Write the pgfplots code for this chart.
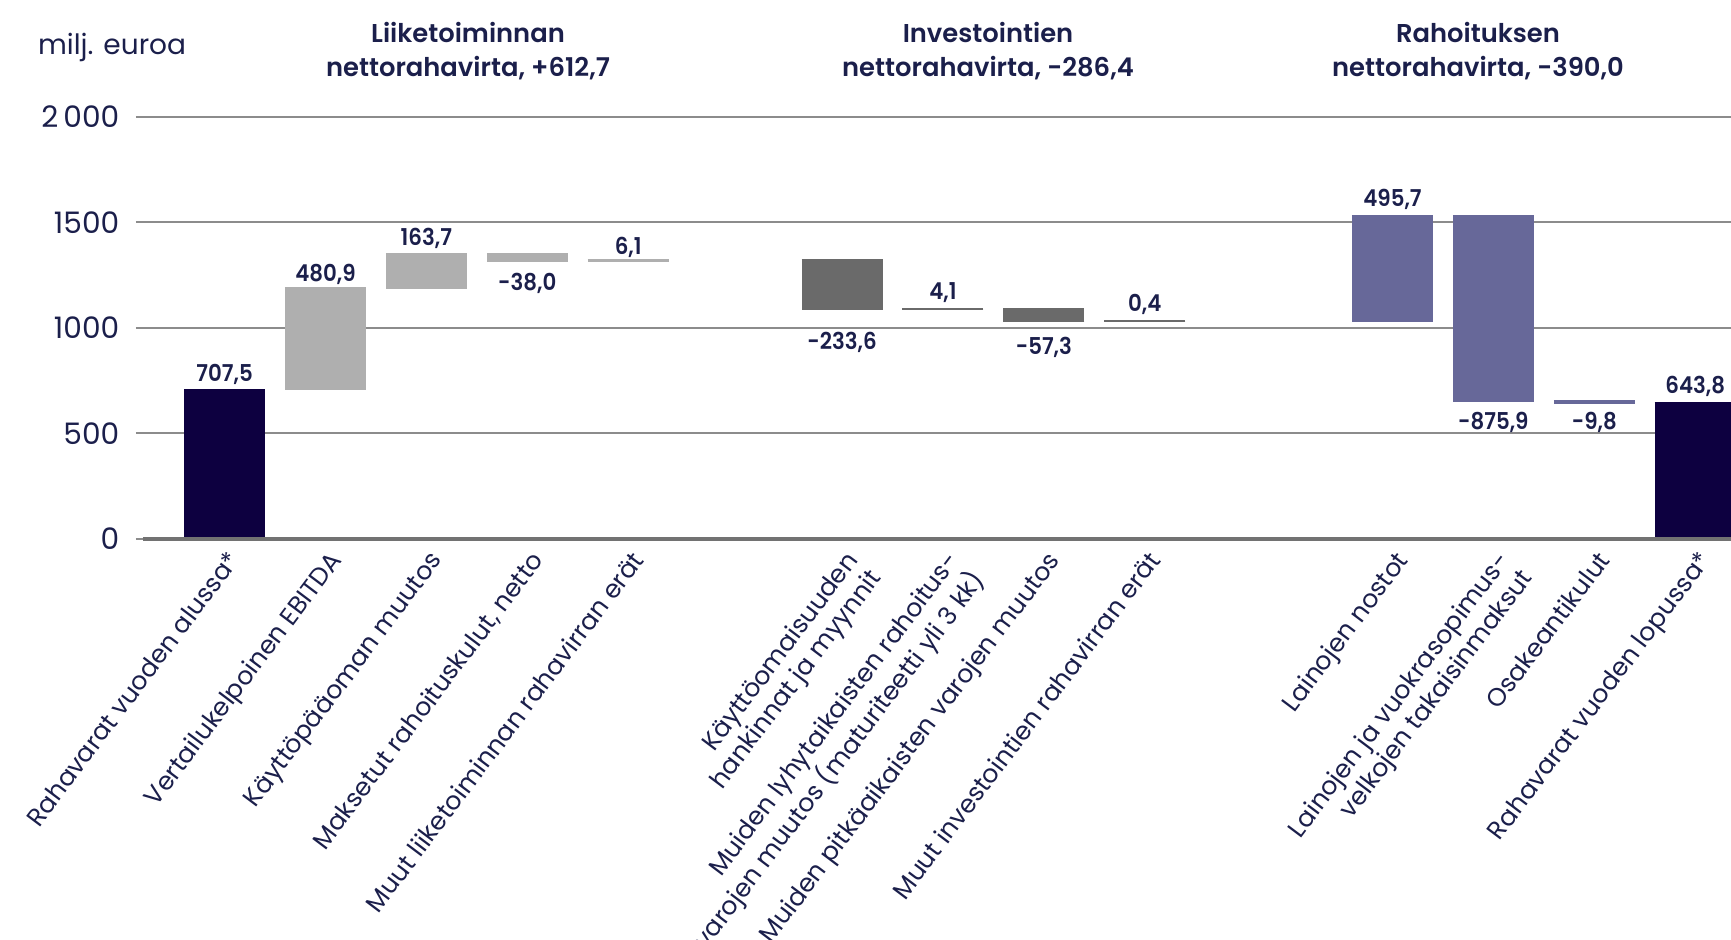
\documentclass[border=0pt]{standalone}
\usepackage{fontspec}
\setmainfont{Poppins}[BoldFont={* SemiBold}]
\newfontfamily\lblfont{Poppins SemiBold}[FakeStretch=0.92]
\usepackage{pgfplots}
\usepackage{pgfplotstable}
\pgfplotsset{compat=1.18}

\definecolor{txt}{HTML}{1B1F4B}
\definecolor{navybar}{HTML}{0D0040}
\definecolor{lgrey}{HTML}{AFAFAF}
\definecolor{dgrey}{HTML}{6A6A6A}
\definecolor{purp}{HTML}{676899}
\definecolor{gridgrey}{HTML}{8C8C8C}
\definecolor{axisgrey}{HTML}{727272}

% waterfall steps: x position, running start s, change d, label baseline offset lo (pt)
\pgfplotstableread{
x      s      d      lo
0      0      707.5  4.15
14.575 0      643.8  4.65
}\cashtab
\pgfplotstableread{
x  s       d      lo
1  707.5   480.9  3.5
2  1188.4  163.7  3.85
3  1352.1  -38.0  -14.65
4  1314.1  6.1    2.9
}\opertab
\pgfplotstableread{
x     s       d       lo
6.12  1320.2  -233.6  -20
7.12  1086.6  4.1     4.5
8.12  1090.7  -57.3   -16.65
9.12  1033.4  0.4     4.5
}\investtab
\pgfplotstableread{
x       s       d       lo
11.575  1033.8  495.7   5
12.575  1529.5  -875.9  -14.15
13.575  653.6   -9.8    -13.3
}\financetab

\pgfplotsset{
  wfbar/.style={draw=none, mark=none, mark options={draw=none, fill=none}, forget plot,
    error bars/.cd, y dir=both, y explicit,
    error bar style={draw=#1, line width=40.5pt},
    error mark=-,
    error mark options={draw=#1, rotate=90, mark size=20.25pt, line width=0.9pt}},
  wflabel/.style={only marks, mark=none, forget plot,
    point meta=explicit,
    visualization depends on={\thisrow{lo} \as \lofs},
    nodes near coords={\pgfmathprintnumber{\pgfplotspointmeta}},
    nodes near coords style={font=\lblfont\fontsize{11.6}{13}\selectfont,
      text=txt, anchor=base, inner sep=0pt, yshift=\lofs}},
}

\begin{document}
\begin{tikzpicture}
\useasboundingbox (0,0) rectangle (865.5pt,470pt);
\begin{axis}[
  at={(68pt,196.3pt)}, anchor=south west,
  scale only axis, width=797.5pt, height=215.35pt,
  xmin=-0.878, xmax=14.93, ymin=-40, ymax=2000,
  axis line style={draw=none}, major tick length=0pt, tick style={draw=none},
  ymajorgrids, grid style={draw=gridgrey, line width=1pt},
  ytick={0,500,1000,1500,2000},
  yticklabels={0,500,1000,1500,2\,000},
  yticklabel style={font=\fontsize{14.8}{16}\selectfont, text=txt, anchor=east, inner sep=0pt, xshift=-8.2pt},
  xtick={0,1,2,3,4,6.12,7.12,8.12,9.12,11.575,12.575,13.575,14.575},
  xticklabels={
    Rahavarat vuoden alussa*,
    Vertailukelpoinen EBITDA,
    Käyttöpääoman muutos,
    {Maksetut rahoituskulut, netto},
    Muut liiketoiminnan rahavirran erät,
    Käyttöomaisuuden\\hankinnat ja myynnit,
    Muiden lyhytaikaisten rahoitus-\\varojen muutos (maturiteetti yli 3 kk),
    Muiden pitkäaikaisten varojen muutos,
    Muut investointien rahavirran erät,
    Lainojen nostot,
    Lainojen ja vuokrasopimus-\\velkojen takaisinmaksut,
    Osakeantikulut,
    Rahavarat vuoden lopussa*},
  xticklabel style={xshift=0.8pt, yshift=-0.6pt, rotate=53, anchor=north east,
    align=right, inner sep=0pt, text=txt, font=\fontsize{12.6}{14.4}\selectfont},
  /pgf/number format/.cd, use comma, fixed, fixed zerofill, precision=1,
    1000 sep={}, assume math mode=true,
]
\addplot[wfbar=navybar] table[x=x, y expr=\thisrow{s}+0.5*\thisrow{d}, y error expr=abs(0.5*\thisrow{d})] {\cashtab};
\addplot[wfbar=lgrey] table[x=x, y expr=\thisrow{s}+0.5*\thisrow{d}, y error expr=abs(0.5*\thisrow{d})] {\opertab};
\addplot[wfbar=dgrey] table[x=x, y expr=\thisrow{s}+0.5*\thisrow{d}, y error expr=abs(0.5*\thisrow{d})] {\investtab};
\addplot[wfbar=purp] table[x=x, y expr=\thisrow{s}+0.5*\thisrow{d}, y error expr=abs(0.5*\thisrow{d})] {\financetab};

\addplot[wflabel] table[x=x, y expr=\thisrow{s}+\thisrow{d}, meta=d] {\cashtab};
\addplot[wflabel] table[x=x, y expr=\thisrow{s}+\thisrow{d}, meta=d] {\opertab};
\addplot[wflabel] table[x=x, y expr=\thisrow{s}+\thisrow{d}, meta=d] {\investtab};
\addplot[wflabel] table[x=x, y expr=\thisrow{s}+\thisrow{d}, meta=d] {\financetab};

% baseline at zero
\draw[axisgrey, line width=2.35pt] (axis cs:-0.81,0) -- (axis cs:14.93,0);
\end{axis}

\node[anchor=base west, text=txt, font=\fontsize{14}{16}\selectfont] at (15.5pt,442.5pt) {milj. euroa};

\begin{scope}[every node/.style={anchor=base, text=txt, font=\bfseries\fontsize{12.9}{15}\selectfont}]
\node at (234pt,448.5pt) {Liiketoiminnan};
\node at (234pt,431.5pt) {nettorahavirta, +612,7};
\node at (494pt,448.5pt) {Investointien};
\node at (494pt,431.5pt) {nettorahavirta, -286,4};
\node at (739pt,448.5pt) {Rahoituksen};
\node at (739pt,431.5pt) {nettorahavirta, -390,0};
\end{scope}
\end{tikzpicture}
\end{document}
